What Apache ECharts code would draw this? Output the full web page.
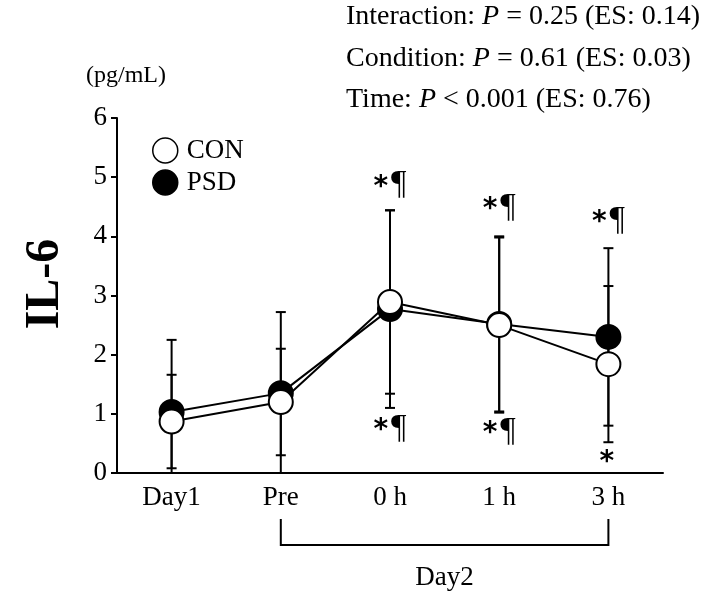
<!DOCTYPE html>
<html>
<head>
<meta charset="utf-8">
<script src="https://cdn.jsdelivr.net/npm/echarts@6/dist/echarts.min.js"></script>
<style>
  html, body { margin: 0; padding: 0; background: #fff; }
  #chart { width: 709px; height: 602px; }
</style>
</head>
<body>
<div id="chart"></div>
<script>
// time points
const categories = ['Day1', 'Pre', '0 h', '1 h', '3 h']
// IL-6 mean and SD (pg/mL)
const conMean = [0.87, 1.20, 2.89, 2.50, 1.84]
const conSd = [0.79, 0.90, 1.55, 1.48, 1.32]
const psdMean = [1.03, 1.35, 2.77, 2.52, 2.30]
const psdSd = [1.22, 1.37, 1.67, 1.48, 1.50]
// significance marks: [category index, y value, text]
const marksAbove = [[2, 4.88, '*¶'], [3, 4.5, '*¶'], [4, 4.28, '*¶']]
const marksBelow = [[2, 0.76, '*¶'], [3, 0.71, '*¶'], [4, 0.23, '*']]
const statLines = [
  ['Interaction: ', '= 0.25 (ES: 0.14)'],
  ['Condition: ', '= 0.61 (ES: 0.03)'],
  ['Time: ', '< 0.001 (ES: 0.76)']
]

const FONT = 'Liberation Serif'

const errData = (mean, sd) => mean.map((m, i) => [i, Math.max(0, m - sd[i]), m + sd[i]])

const renderErr = (params, api) => {
  const lo = api.coord([api.value(0), api.value(1)])
  const hi = api.coord([api.value(0), api.value(2)])
  const w = 5
  const style = { stroke: '#000', lineWidth: 2 }
  return {
    type: 'group',
    children: [
      { type: 'line', shape: { x1: hi[0], y1: hi[1], x2: lo[0], y2: lo[1] }, style },
      { type: 'line', shape: { x1: hi[0] - w, y1: hi[1], x2: hi[0] + w, y2: hi[1] }, style },
      { type: 'line', shape: { x1: lo[0] - w, y1: lo[1], x2: lo[0] + w, y2: lo[1] }, style }
    ]
  }
}

const marksAll = marksAbove.concat(marksBelow)

const renderMark = (params, api) => {
  const p = api.coord([api.value(0), api.value(1)])
  const txt = marksAll[params.dataIndex][2]
  return {
    type: 'text',
    x: p[0],
    y: p[1],
    style: {
      text: txt.length > 1 ? '{a|*}{b|¶}' : '{a|*}',
      align: 'center',
      verticalAlign: 'middle',
      rich: {
        a: { fontFamily: 'DejaVu Sans', fontWeight: 'bold', fontSize: 28, fill: '#000', padding: [6, 3, 0, 0] },
        b: { fontFamily: FONT, fontSize: 34, fill: '#000' }
      }
    }
  }
}

const chart = echarts.init(document.getElementById('chart'))

const option = {
  animation: false,
  textStyle: { fontFamily: FONT, color: '#000' },
  grid: { left: 117, top: 118, width: 546, height: 355, containLabel: false },
  legend: {
    orient: 'vertical',
    left: 147,
    top: 132,
    itemGap: 5,
    itemWidth: 25,
    itemHeight: 25,
    textStyle: { fontFamily: FONT, fontSize: 27, color: '#000', padding: [0, 0, 0, 4] },
    data: [
      { name: 'CON', icon: 'circle', itemStyle: { color: '#fff', borderColor: '#000', borderWidth: 1.5 } },
      { name: 'PSD', icon: 'circle', itemStyle: { color: '#000', borderColor: '#000', borderWidth: 1.5 } }
    ]
  },
  xAxis: {
    type: 'category',
    data: categories,
    boundaryGap: true,
    axisLine: { lineStyle: { color: '#000', width: 2 } },
    axisTick: { alignWithLabel: true, length: 6, lineStyle: { color: '#000', width: 2 } },
    axisLabel: { fontFamily: FONT, fontSize: 27, color: '#000', margin: 11 },
    splitLine: { show: false }
  },
  yAxis: {
    type: 'value',
    min: 0,
    max: 6,
    interval: 1,
    axisLine: { show: true, lineStyle: { color: '#000', width: 2 } },
    axisTick: { show: true, length: 6, lineStyle: { color: '#000', width: 2 } },
    axisLabel: { fontFamily: FONT, fontSize: 27, color: '#000', margin: 10 },
    splitLine: { show: false }
  },
  series: [
    { name: 'CON err', type: 'custom', renderItem: renderErr, data: errData(conMean, conSd), z: 1, silent: true },
    { name: 'PSD err', type: 'custom', renderItem: renderErr, data: errData(psdMean, psdSd), z: 1, silent: true },
    {
      name: 'PSD', type: 'line', data: psdMean, z: 3,
      symbol: 'circle', symbolSize: 24,
      lineStyle: { color: '#000', width: 2 },
      itemStyle: { color: '#000', borderColor: '#000', borderWidth: 2 }
    },
    {
      name: 'CON', type: 'line', data: conMean, z: 4,
      symbol: 'circle', symbolSize: 24,
      lineStyle: { color: '#000', width: 2 },
      itemStyle: { color: '#fff', borderColor: '#000', borderWidth: 2 }
    },
    {
      name: 'marks', type: 'custom', renderItem: renderMark, z: 5, silent: true,
      data: marksAll.map(m => [m[0], m[1]])
    }
  ]
}

chart.setOption(option)

// annotations: bracket for Day2, titles and stats
const xPre = chart.convertToPixel({ xAxisIndex: 0 }, 'Pre')
const x3h = chart.convertToPixel({ xAxisIndex: 0 }, '3 h')
const graphics = [
  {
    type: 'polyline',
    shape: { points: [[xPre, 519], [xPre, 545], [x3h, 545], [x3h, 519]] },
    style: { stroke: '#000', lineWidth: 2, fill: null }
  },
  {
    type: 'text', x: (xPre + x3h) / 2, y: 578,
    style: { text: 'Day2', fontFamily: FONT, fontSize: 27, fill: '#000', align: 'center', verticalAlign: 'middle' }
  },
  {
    type: 'text', x: 86, y: 76,
    style: { text: '(pg/mL)', fontFamily: FONT, fontSize: 24, fill: '#000', align: 'left', verticalAlign: 'middle' }
  },
  {
    type: 'text', x: 46, y: 284, rotation: Math.PI / 2,
    style: { text: 'IL-6', fontFamily: FONT, fontSize: 48, fontWeight: 'bold', fill: '#000', align: 'center', verticalAlign: 'middle' }
  }
]
statLines.forEach((s, i) => {
  graphics.push({
    type: 'text', x: 346, y: 17 + i * 41.5,
    style: {
      text: '{n|' + s[0] + '}{p|P}{n| ' + s[1] + '}',
      align: 'left',
      verticalAlign: 'middle',
      rich: {
        n: { fontFamily: FONT, fontSize: 28, fill: '#000' },
        p: { fontFamily: FONT, fontSize: 28, fontStyle: 'italic', fill: '#000' }
      }
    }
  })
})
chart.setOption({ graphic: graphics })
</script>
</body>
</html>
